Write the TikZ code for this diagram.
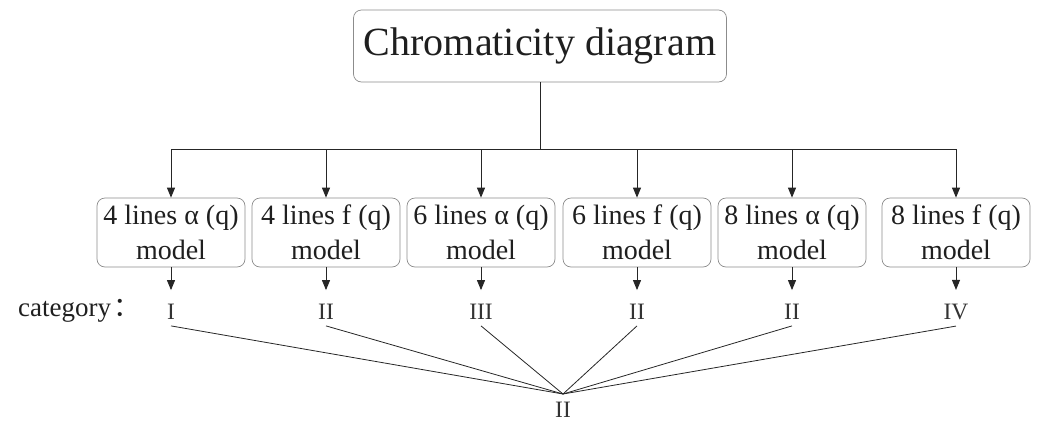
\documentclass[tikz,border=0pt]{standalone}
\usepackage{fontspec}
\setmainfont{Liberation Serif}
\newfontfamily\cjk{Noto Sans CJK SC}
\usetikzlibrary{arrows.meta}
\begin{document}
\begin{tikzpicture}[x=1pt,y=-1pt,
  box/.style={draw=black!45, rounded corners=8pt, line width=0.7pt,
    minimum width=148pt, minimum height=69pt, inner sep=0pt, align=center,
    font=\fontsize{28}{35}\selectfont, text=black!88},
  cat/.style={font=\fontsize{23.5}{23.5}\selectfont, inner sep=0pt, text=black!80},
  link/.style={draw=black!85, line width=0.9pt},
  arr/.style={link, -{Triangle[length=10pt,width=8pt]}}]
\useasboundingbox (0,0) rectangle (1047,421);
\node[box, minimum width=373pt, minimum height=72pt,
  font=\fontsize{40}{40}\selectfont] (top) at (540,46) {Chromaticity diagram};
\node[box] (b1) at (171,232.5) {4 lines α (q)\\model};
\node[box] (b2) at (326,232.5) {4 lines f (q)\\model};
\node[box] (b3) at (481,232.5) {6 lines α (q)\\model};
\node[box] (b4) at (637,232.5) {6 lines f (q)\\model};
\node[box] (b5) at (792,232.5) {8 lines α (q)\\model};
\node[box] (b6) at (956,232.5) {8 lines f (q)\\model};
\coordinate (hub) at (540,149);
\draw[link] (top.south) -- (hub);
\draw[link] (b1.north |- hub) -- (b6.north |- hub);
\foreach \b in {b1,b2,b3,b4,b5,b6}
  \draw[arr] (\b.north |- hub) -- (\b.north);
\node[anchor=west, font=\fontsize{27}{27}\selectfont, inner sep=0pt, text=black!88] (catlbl) at (18,311) {category\kern2pt{\cjk ：}};
\node[cat] (c1) at (171,312) {I};
\node[cat] (c2) at (326,312) {II};
\node[cat] (c3) at (481,312) {III};
\node[cat] (c4) at (637,312) {II};
\node[cat] (c5) at (792,312) {II};
\node[cat] (c6) at (956,312) {IV};
\foreach \i in {1,...,6}
  \draw[arr] (b\i.south) -- ([yshift=14pt]c\i.north);
\coordinate (m) at (563,394);
\node[cat] (res) at (563,409.5) {II};
\foreach \i in {1,...,6}
  \draw[link, line width=0.8pt] ([yshift=-6pt]c\i.south) -- (m);
\end{tikzpicture}
\end{document}
